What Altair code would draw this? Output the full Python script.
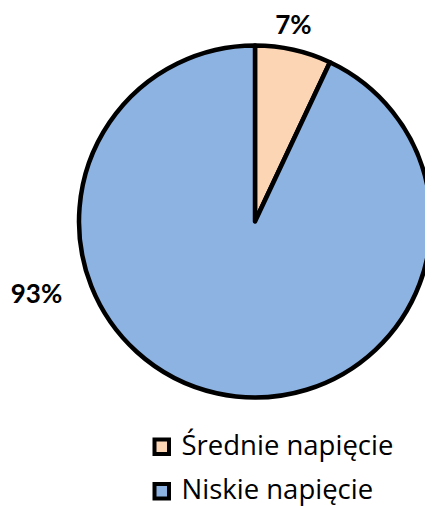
import altair as alt
import pandas as pd

categories = ["Średnie napięcie", "Niskie napięcie"]
shares = [7, 93]
labels = ["7%", "93%"]
colors = ["#FCD5B5", "#8DB3E2"]

df = pd.DataFrame({"kat": categories, "val": shares, "lab": labels, "ord": [0, 1]})

base = alt.Chart(df).encode(
    theta=alt.Theta("val:Q", stack=True),
    order=alt.Order("ord:Q"),
    x=alt.value(247),
    y=alt.value(213.5),
)

arcs = base.mark_arc(radius=176, stroke="black", strokeWidth=4.5, strokeJoin="round").encode(
    fill=alt.Fill(
        "kat:N",
        scale=alt.Scale(domain=categories, range=colors),
        legend=alt.Legend(
            title=None,
            orient="none",
            legendX=140,
            legendY=425,
            direction="vertical",
            symbolType="square",
            symbolSize=210,
            symbolStrokeColor="black",
            symbolStrokeWidth=4,
            labelFont="Open Sans",
            labelFontSize=27.5,
            labelColor="black",
            labelLimit=400,
            labelOffset=6,
            rowPadding=13.5,
        ),
    )
)

txt_style = dict(font="Lato", fontSize=26, fontWeight="bold", color="black",
                 align="center", baseline="middle")

t7 = base.mark_text(radius=199.7, thetaOffset=-0.026, **txt_style).encode(
    text=alt.condition(alt.datum.ord == 0, "lab:N", alt.value(""))
)
t93 = base.mark_text(radius=230.4, thetaOffset=1.028, **txt_style).encode(
    text=alt.condition(alt.datum.ord == 1, "lab:N", alt.value(""))
)

chart = alt.layer(arcs, t7, t93).properties(
    width=417, height=498, autosize="none", padding=0
).configure(background="white").configure_view(stroke=None)

chart.save("out.html", embed_options={"renderer": "svg", "actions": False})
